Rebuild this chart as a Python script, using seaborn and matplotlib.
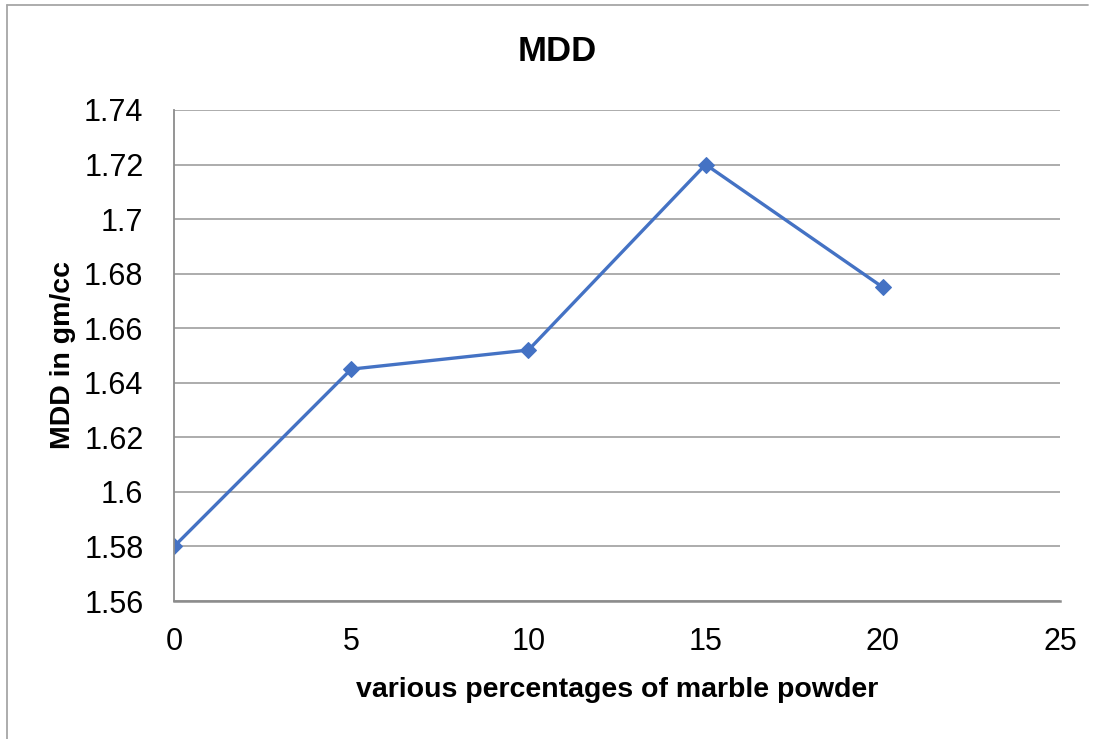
import pandas as pd
import matplotlib
matplotlib.use("Agg")
import matplotlib.pyplot as plt
import seaborn as sns
from matplotlib.lines import Line2D

# Data
marble_pct = [0, 5, 10, 15, 20]
mdd_values = [1.58, 1.645, 1.652, 1.72, 1.675]
x_ticks = [0, 5, 10, 15, 20, 25]
y_ticks = [1.56, 1.58, 1.6, 1.62, 1.64, 1.66, 1.68, 1.7, 1.72, 1.74]
y_labels = ["1.56", "1.58", "1.6", "1.62", "1.64", "1.66", "1.68", "1.7", "1.72", "1.74"]

df = pd.DataFrame({"pct": marble_pct, "mdd": mdd_values})

sns.set_style("white")
plt.rcParams["font.family"] = ["Liberation Sans Narrow", "Liberation Sans", "DejaVu Sans"]
plt.rcParams["text.color"] = "black"
plt.rcParams["axes.labelcolor"] = "black"
plt.rcParams["xtick.color"] = "black"
plt.rcParams["ytick.color"] = "black"

fig = plt.figure(figsize=(10.96, 7.39), dpi=100)
ax = fig.add_axes([0.1588, 0.1867, 0.8084, 0.6645])

sns.lineplot(data=df, x="pct", y="mdd", ax=ax, color="#4472C4", linewidth=2.4,
             marker="D", markersize=8, markeredgecolor="#4472C4")

ax.set_xlim(0, 25)
ax.set_ylim(1.56, 1.74)
ax.set_xticks(x_ticks)
ax.set_yticks(y_ticks)
ax.set_yticklabels(y_labels)
ax.tick_params(axis="both", labelsize=22, length=0)
ax.tick_params(axis="x", pad=19)
ax.tick_params(axis="y", pad=22)
ax.grid(axis="y", color="#A6A6A6", linewidth=1.3)
ax.grid(axis="x", visible=False)

for side in ["top", "right"]:
    ax.spines[side].set_visible(False)
ax.spines["left"].set_color("#8C8C8C")
ax.spines["left"].set_linewidth(1.3)
ax.spines["bottom"].set_color("#8C8C8C")
ax.spines["bottom"].set_linewidth(1.8)

ax.set_xlabel("various percentages of marble powder", fontsize=20.5, fontweight="bold", labelpad=14)
ax.set_ylabel("MDD in gm/cc", fontsize=20.5, fontweight="bold", labelpad=6)
fig.text(0.508, 0.93, "MDD", ha="center", va="center", fontsize=25, fontweight="bold")

# outer chart border (top and left visible in the reference)
fig.add_artist(Line2D([7 / 1096, 1088 / 1096], [1 - 5 / 739, 1 - 5 / 739],
                      transform=fig.transFigure, color="#A6A6A6", linewidth=1.3))
fig.add_artist(Line2D([7 / 1096, 7 / 1096], [0, 1 - 5 / 739],
                      transform=fig.transFigure, color="#A6A6A6", linewidth=1.3))

fig.savefig("out.png", dpi=100)
